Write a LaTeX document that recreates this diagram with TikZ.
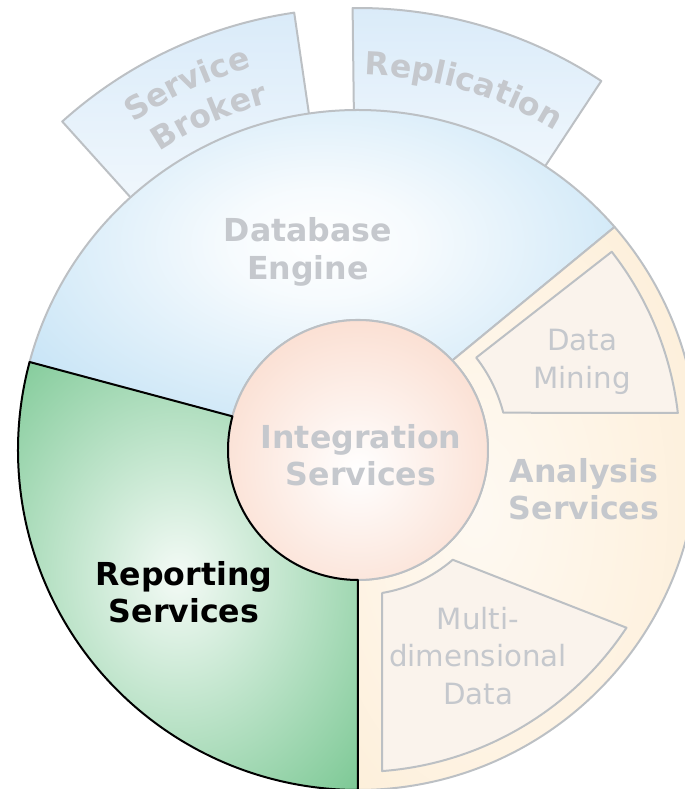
\documentclass[tikz,border=0pt]{standalone}
\usepackage{fontspec}
\setmainfont{DejaVu Sans}
\usetikzlibrary{decorations.text}

\definecolor{blueedge}{RGB}{181,219,243}
\definecolor{greenedge}{RGB}{116,197,142}
\definecolor{orangeedge}{RGB}{253,237,213}
\definecolor{salmon}{RGB}{249,210,192}
\definecolor{tabblue}{RGB}{218,235,249}
\definecolor{subfill}{RGB}{250,243,236}
\definecolor{linegrey}{RGB}{188,192,196}
\definecolor{labelgrey}{RGB}{197,200,205}

\pgfdeclareradialshading{blueshade}{\pgfpoint{0bp}{0bp}}{color(0bp)=(white); color(8bp)=(white!88!blueedge); color(40bp)=(blueedge); color(75bp)=(blueedge)}
\pgfdeclareradialshading{greenshade}{\pgfpoint{0bp}{0bp}}{color(0bp)=(white!92!greenedge); color(38bp)=(greenedge); color(75bp)=(greenedge)}
\pgfdeclareradialshading{orangeshade}{\pgfpoint{-8bp}{0bp}}{color(0bp)=(white!70!orangeedge); color(40bp)=(orangeedge); color(75bp)=(orangeedge)}
\pgfdeclareradialshading{salmonshade}{\pgfpoint{0bp}{-4bp}}{color(0bp)=(white); color(40bp)=(salmon); color(75bp)=(salmon)}

\tikzset{
  ring/.style={shade, draw=linegrey, line width=0.6mm, line join=round},
  tab/.style={draw=linegrey, line width=0.6mm, line join=round, top color=tabblue, bottom color=white!60!tabblue},
  subpart/.style={fill=subfill, draw=linegrey, line width=0.6mm, line join=round},
  bold label/.style={font=\bfseries\fontsize{27}{32}\selectfont, text=labelgrey, align=center, inner sep=0pt},
  thin label/.style={font=\fontsize{25}{32}\selectfont, text=labelgrey, align=center, inner sep=0pt},
  arc text/.style={decorate, decoration={text along path, text align=center, text color=labelgrey, text={|\bfseries\fontsize{27}{32}\selectfont|#1}}}
}

\begin{document}
\begin{tikzpicture}[x=0.3mm,y=0.3mm]
\useasboundingbox (-358,-339) rectangle (326,450);

% tabs behind the ring
\path[tab] (98.3:330) -- (98.3:442) arc[start angle=98.3, end angle=132, radius=442] -- (132:330) -- cycle;
\path[tab] (56.6:330) -- (56.6:442) arc[start angle=56.6, end angle=90.7, radius=442] -- (90.7:330) -- cycle;
\path[arc text=Service] (130.5:397) arc[start angle=130.5, end angle=99.5, radius=397];
\path[arc text=Broker] (130:358) arc[start angle=130, end angle=98, radius=358];
\path[arc text=Replication] (91:375) arc[start angle=91, end angle=56.3, radius=375];

% sectors of the ring
\path[ring, shading=blueshade] (43.5:130) -- (41:340) arc[start angle=41, end angle=165, radius=340]
  -- (165:130) arc[start angle=165, end angle=43.5, radius=130] -- cycle;
\path[ring, shading=orangeshade] (-90:130) -- (-90:340) arc[start angle=-90, end angle=41, radius=340]
  -- (43.5:130) arc[start angle=43.5, end angle=-90, radius=130] -- cycle;
\path[ring, shading=salmonshade] (0,0) circle[radius=130];
\path[ring, shading=greenshade, draw=black] (165:130) -- (165:340) arc[start angle=165, end angle=270, radius=340]
  -- (270:130) arc[start angle=270, end angle=165, radius=130] -- cycle;

% parts of analysis services
\path[subpart] (38:322) -- (38:150) arc[start angle=38, end angle=14.4, radius=150]
  -- (6.6:322) arc[start angle=6.6, end angle=38, radius=322] -- cycle;
\path[subpart] (-49.2:145) -- (-33.5:322) arc[start angle=-33.5, end angle=-85.7, radius=322]
  -- (-80.4:145) arc[start angle=-80.4, end angle=-49.2, radius=145] -- cycle;

\node[bold label] (engine) at (-50,198) {Database\\Engine};
\node[bold label] (integration) at (3,-5) {Integration\\Services};
\node[bold label, text=black] (reporting) at (-174,-142) {Reporting\\Services};
\node[bold label] (analysis) at (226,-39) {Analysis\\Services};
\node[thin label] (mining) at (224,88) {Data\\Mining};
\node[thin label] (multidim) at (120,-206) {Multi-\\dimensional\\Data};
\end{tikzpicture}
\end{document}
